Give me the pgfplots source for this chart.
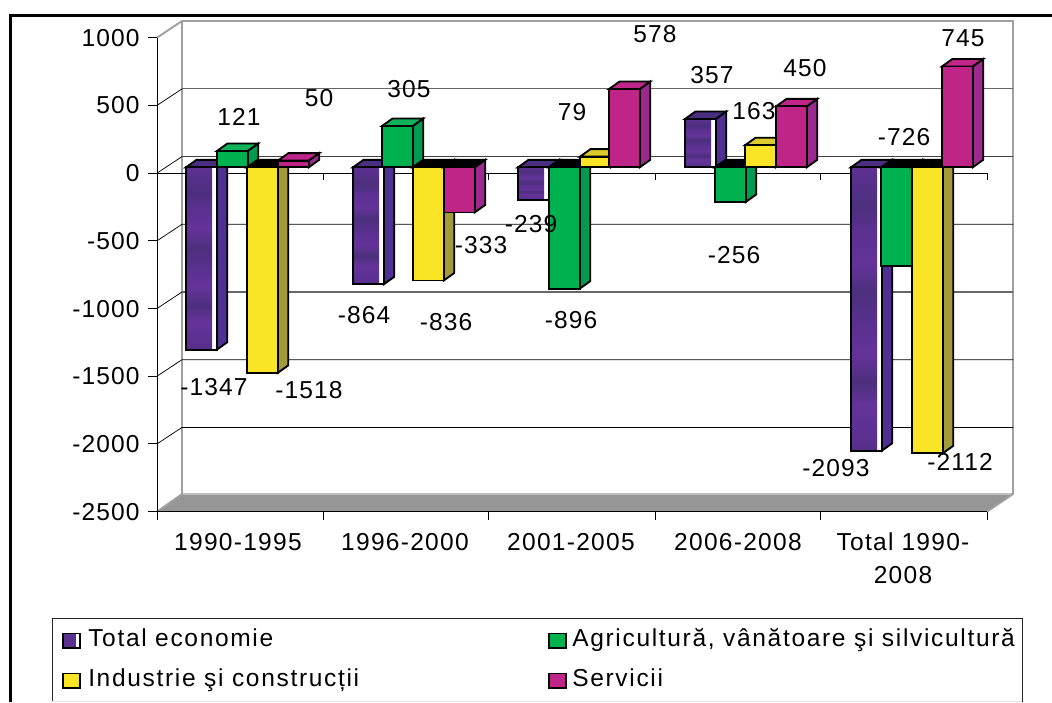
\documentclass[border=0pt]{standalone}
\usepackage{pgfplots}
\pgfplotsset{compat=1.18}
\usepackage{fontspec}
\setmainfont[LetterSpace=4.5]{Liberation Sans}

\definecolor{pFront}{HTML}{5A3090}
\definecolor{pDark}{HTML}{4C307C}
\definecolor{pLight}{HTML}{64339A}
\definecolor{pSide}{HTML}{4E3192}
\definecolor{pTop}{HTML}{4A2F80}
\definecolor{gFront}{HTML}{00B14F}
\definecolor{gSide}{HTML}{009B50}
\definecolor{gTop}{HTML}{10B25A}
\definecolor{yFront}{HTML}{F9E526}
\definecolor{ySide}{HTML}{A39A3A}
\definecolor{yTop}{HTML}{DCCB2C}
\definecolor{mFront}{HTML}{BE2587}
\definecolor{mSide}{HTML}{9A2A8E}
\definecolor{mTop}{HTML}{C0268A}
\definecolor{floorGrey}{HTML}{969696}
\definecolor{wallGrey}{HTML}{A0A0A0}

% streaky texture of the purple bars
\pgfdeclareverticalshading{mottle}{100bp}{
  color(0bp)=(pFront); color(5bp)=(pDark); color(9bp)=(pLight);
  color(14bp)=(pFront); color(18bp)=(pLight); color(23bp)=(pDark);
  color(27bp)=(pFront); color(33bp)=(pLight); color(37bp)=(pDark);
  color(42bp)=(pLight); color(47bp)=(pFront); color(53bp)=(pDark);
  color(58bp)=(pLight); color(64bp)=(pFront); color(68bp)=(pDark);
  color(74bp)=(pFront); color(79bp)=(pLight); color(84bp)=(pDark);
  color(89bp)=(pFront); color(94bp)=(pLight); color(100bp)=(pFront)}

\newcommand{\lbl}{\fontsize{18.4pt}{24.75pt}\selectfont}
\newcommand{\tlbl}{\fontsize{18.4pt}{24.75pt}\selectfont\addfontfeature{LetterSpace=5.2}}
\newcommand{\llbl}{\fontsize{18.4pt}{24.75pt}\selectfont\addfontfeature{LetterSpace=6.8}}

% y offsets of the bar plane, in data units (0.13543 px per unit)
\pgfmathsetmacro{\planeY}{42.8}
\pgfmathsetmacro{\depthY}{55.4}
\newcommand{\barW}{30.7}
\newcommand{\depthX}{10.5}
\tikzset{barline/.style={draw=black,line width=1.4pt,line join=miter}}

% side and top faces of a bar: x, value, side colour, top colour
\newcommand{\barFaces}[4]{%
  \pgfmathsetmacro{\xa}{#1}%
  \pgfmathsetmacro{\xb}{#1+\barW}%
  \pgfmathsetmacro{\xc}{#1+\barW+\depthX}%
  \pgfmathsetmacro{\xd}{#1+\depthX}%
  \pgfmathsetmacro{\yz}{\planeY}%
  \pgfmathsetmacro{\yv}{#2+\planeY}%
  \pgfmathsetmacro{\yt}{max(#2,0)+\planeY}%
  \pgfmathsetmacro{\ytb}{max(#2,0)+\planeY+\depthY}%
  \pgfmathsetmacro{\yzb}{\planeY+\depthY}%
  \pgfmathsetmacro{\yvb}{#2+\planeY+\depthY}%
  \addplot[barline,fill=#3] coordinates {(\xb,\yz) (\xc,\yzb) (\xc,\yvb) (\xb,\yv)} -- cycle;
  \addplot[barline,fill=#4] coordinates {(\xa,\yt) (\xd,\ytb) (\xc,\ytb) (\xb,\yt)} -- cycle;
}
% flat bar: x, value, front, side, top colour when positive
\newcommand{\flatbar}[5]{%
  \pgfmathparse{#2<0?1:0}%
  \ifnum\pgfmathresult>0 \barFaces{#1}{#2}{#4}{black}\else \barFaces{#1}{#2}{#4}{#5}\fi
  \addplot[barline,fill=#3] coordinates {(\xa,\yz) (\xb,\yz) (\xb,\yv) (\xa,\yv)} -- cycle;
}
% textured purple bar with the pale strip down its right edge
\newcommand{\purplebar}[2]{%
  \barFaces{#1}{#2}{pSide}{pTop}
  \addplot[barline,fill=white] coordinates {(\xa,\yz) (\xb,\yz) (\xb,\yv) (\xa,\yv)} -- cycle;
  \pgfmathsetmacro{\xe}{#1+\barW-4.5}%
  \addplot[draw=none,shade,shading=mottle] coordinates {(\xa,\yz) (\xe,\yz) (\xe,\yv) (\xa,\yv)} -- cycle;
  \addplot[barline,fill=none] coordinates {(\xa,\yz) (\xb,\yz) (\xb,\yv) (\xa,\yv)} -- cycle;
}

\begin{document}
\begin{tikzpicture}
\begin{scope}[x=0.75pt,y=-0.75pt]
  \path[use as bounding box,fill=white] (0,0) rectangle (1052,702);
  \coordinate (O) at (157,511.7);
  % outer frame
  \draw[black,line width=1.9pt] (10.5,702) -- (10.5,15.5) -- (1052,15.5);
  % floor and walls
  \fill[floorGrey] (157,511.7) -- (987,511.7) -- (1013,494) -- (182,494) -- cycle;
  \draw[black!25,line width=0.8pt] (182,494) -- (1013,494);
  \draw[wallGrey,line width=1.4pt] (157,37.7) -- (182,21) -- (1013,21) -- (1013,494) -- (987,511.7);
  \draw[wallGrey,line width=1.4pt] (182,21) -- (182,494) -- (157,511.7);
  % gridlines across the side and back walls
  \draw[black,line width=0.55pt] (157,105.4) -- (182,88.9);
  \draw[black!60,line width=0.8pt] (182,88.9) -- (1013,88.9);
  \draw[black,line width=0.55pt] (157,173.1) -- (182,156.6);
  \draw[black!75,line width=1.1pt] (182,156.6) -- (1013,156.6);
  \draw[black,line width=0.55pt] (157,240.8) -- (182,224.3) -- (1013,224.3);
  \draw[black,line width=0.55pt] (157,308.5) -- (182,292);
  \draw[black!60,line width=0.8pt] (182,292) -- (1013,292);
  \draw[black,line width=0.55pt] (157,376.2) -- (182,359.7) -- (1013,359.7);
  \draw[black,line width=0.55pt] (157,443.9) -- (182,427.4) -- (1013,427.4);
  % zero line and its ticks
  \draw[black,line width=0.75pt] (157,173.1) -- (987,173.1);
  \foreach \t in {323,488,655,820,987} \draw[black,line width=0.75pt] (\t,173.1) -- (\t,180);
\end{scope}

\begin{axis}[
  at={(O)},anchor=south west,
  scale only axis,width=622.5pt,height=355.5pt,
  xmin=157,xmax=987,ymin=-2500,ymax=1000,
  clip=false,
  axis x line=bottom,axis y line=left,
  axis line style={-,black,line width=0.75pt},
  tick style={black,line width=0.75pt},
  tick align=outside,
  ytick={-2500,-2000,-1500,-1000,-500,0,500,1000},
  yticklabels={-2500,-2000,-1500,-1000,-500,0,500,1000},
  major tick length=7pt,
  minor tick length=6pt,
  xtick={238,405,571,738,903},
  xticklabels={1990-1995,1996-2000,2001-2005,2006-2008,{Total 1990-\\2008}},
  minor xtick={157,323,488,655,820,987},
  x tick style={draw=none},
  minor x tick style={draw=black,line width=0.75pt},
  xticklabel style={font=\tlbl,align=center,yshift=-5.5pt},
  yticklabel style={font=\lbl,xshift=-2.6pt},
]
  % 1990-1995
  \purplebar{186}{-1347}
  \flatbar{217}{121}{gFront}{gSide}{gTop}
  \flatbar{247}{-1518}{yFront}{ySide}{yTop}
  \flatbar{278}{50}{mFront}{mSide}{mTop}
  % 1996-2000
  \purplebar{353}{-864}
  \flatbar{382}{305}{gFront}{gSide}{gTop}
  \flatbar{413}{-836}{yFront}{ySide}{yTop}
  \flatbar{444}{-333}{mFront}{mSide}{mTop}
  % 2001-2005
  \purplebar{518}{-239}
  \flatbar{549}{-896}{gFront}{gSide}{gTop}
  \flatbar{580}{79}{yFront}{ySide}{yTop}
  \flatbar{609}{578}{mFront}{mSide}{mTop}
  % 2006-2008
  \purplebar{685}{357}
  \flatbar{715}{-256}{gFront}{gSide}{gTop}
  \flatbar{745}{163}{yFront}{ySide}{yTop}
  \flatbar{776}{450}{mFront}{mSide}{mTop}
  % Total 1990-2008
  \purplebar{851}{-2093}
  \flatbar{881}{-726}{gFront}{gSide}{gTop}
  \flatbar{912}{-2112}{yFront}{ySide}{yTop}
  \flatbar{942}{745}{mFront}{mSide}{mTop}
\end{axis}

\begin{scope}[x=0.75pt,y=-0.75pt,every node/.style={font=\lbl,inner sep=0pt}]
  % value labels
  \node at (239,117) {121};
  \node at (319,98) {50};
  \node at (409,89) {305};
  \node at (655,34) {578};
  \node at (572,112) {79};
  \node at (712,75) {357};
  \node at (754,111) {163};
  \node at (805,68) {450};
  \node at (963,38) {745};
  \node at (904,137) {-726};
  \node at (214,387) {-1347};
  \node at (309,390) {-1518};
  \node at (364,315) {-864};
  \node at (446,322) {-836};
  \node at (481,245) {-333};
  \node at (531,224) {-239};
  \node at (571,320) {-896};
  \node at (734,255) {-256};
  \node at (836,468) {-2093};
  \node at (960,462) {-2112};

  % legend
  \draw[black!85,line width=0.75pt] (52,702) -- (52,618) -- (1022,618) -- (1022,702);
  \draw[black!10,line width=0.75pt] (52,701) -- (1022,701);
  \filldraw[fill=white,draw=black,line width=1.2pt] (63,633.5) rectangle (80,648);
  \fill[pFront] (63.7,634) rectangle (76,647.5);
  \draw[black,line width=1.2pt] (63,633.5) rectangle (80,648);
  \node[font=\llbl,anchor=base west] at (88,646) {Total economie};
  \filldraw[fill=gFront,draw=black,line width=1.2pt] (549,633.5) rectangle (566,648);
  \node[font=\llbl,anchor=base west] at (572,646) {Agricultură, vânătoare şi silvicultură};
  \filldraw[fill=yFront,draw=black,line width=1.2pt] (63,673.5) rectangle (80,688);
  \node[font=\llbl,anchor=base west] at (88,686) {Industrie şi construcții};
  \filldraw[fill=mFront,draw=black,line width=1.2pt] (549,673.5) rectangle (566,688);
  \node[font=\llbl,anchor=base west] at (572,686) {Servicii};
\end{scope}
\end{tikzpicture}
\end{document}
